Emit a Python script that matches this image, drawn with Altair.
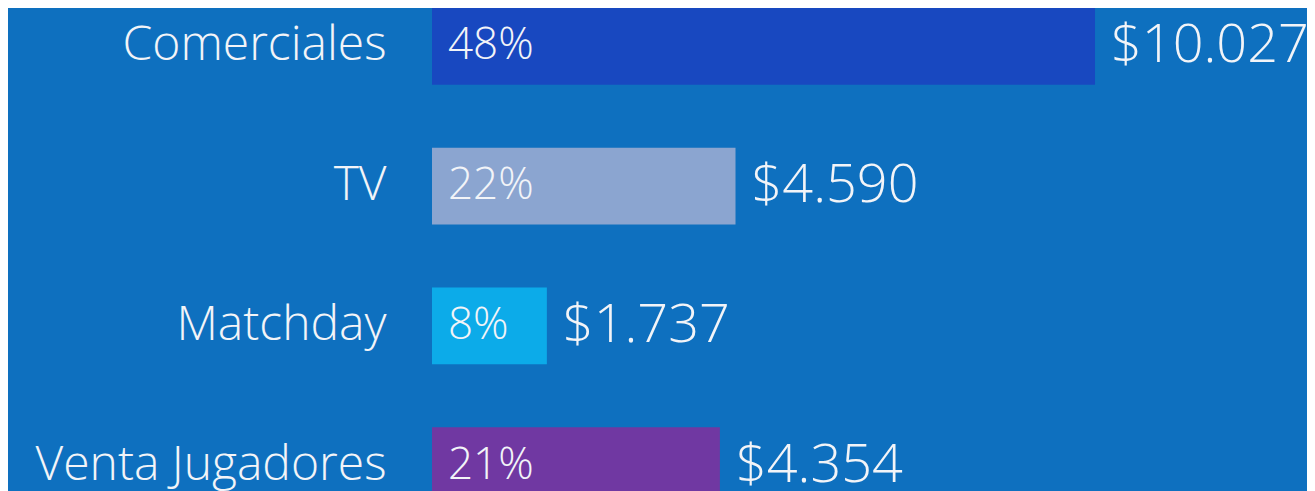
import altair as alt
import pandas as pd

categories = ["Comerciales", "TV", "Matchday", "Venta Jugadores"]
values = [10027, 4590, 1737, 4354]
shares = ["48%", "22%", "8%", "21%"]
value_labels = ["$10.027", "$4.590", "$1.737", "$4.354"]
colors = ["#1848c0", "#8ba5d0", "#0cabe9", "#7038a2"]

df = pd.DataFrame({
    "cat": categories,
    "value": values,
    "share": shares,
    "vlabel": value_labels,
})

FONT = "Open Sans"
TXT = "#f2f4f8"

x_scale = alt.Scale(domain=[0, 13233], nice=False, zero=True)
y_enc = alt.Y(
    "cat:N",
    sort=categories,
    scale=alt.Scale(range=[0, 496], paddingInner=0.45, paddingOuter=0),
    axis=alt.Axis(
        title=None, domain=False, ticks=False, labelPadding=46,
        labelFontSize=48, labelFont=FONT, labelFontWeight=300,
        labelColor=TXT, labelLimit=0,
    ),
)

base = alt.Chart(df)

bars = base.mark_bar().encode(
    x=alt.X("value:Q", scale=x_scale, axis=None),
    y=y_enc,
    color=alt.Color("cat:N", scale=alt.Scale(domain=categories, range=colors), legend=None),
)

pct = base.mark_text(align="left", baseline="middle", dx=16, font=FONT, fontWeight=300,
                     fontSize=44, color=TXT).encode(
    x=alt.datum(0),
    y=alt.Y("cat:N", sort=categories),
    text="share:N",
)

vals = base.mark_text(align="left", baseline="middle", dx=16, font=FONT, fontWeight=300,
                      fontSize=54, color=TXT).encode(
    x=alt.X("value:Q"),
    y=alt.Y("cat:N", sort=categories),
    text="vlabel:N",
)

chart = alt.layer(bars, pct, vals).properties(
    width=875, height=483,
    autosize=alt.AutoSizeParams(type="none"),
    padding={"left": 424, "top": 0, "right": 0, "bottom": 0},
    background="#0e70bf",
).configure_view(stroke=None)

chart.save("out.html", embed_options={"renderer": "svg", "actions": False})
